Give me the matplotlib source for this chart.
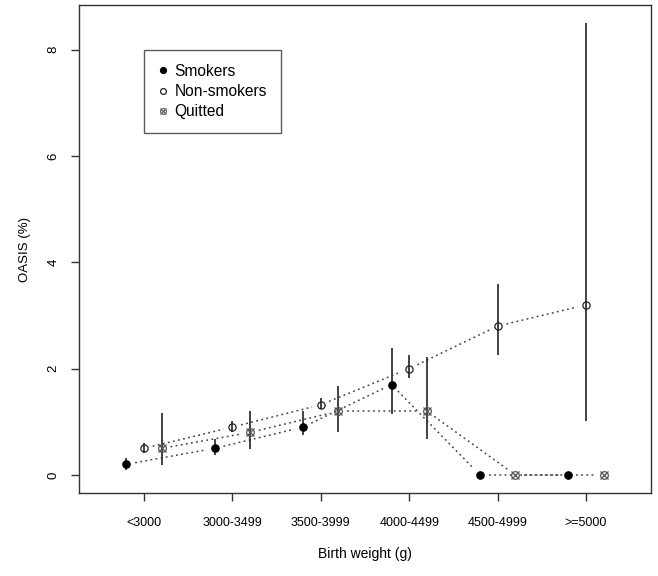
import numpy as np
import matplotlib
matplotlib.use("Agg")
import matplotlib.pyplot as plt
from matplotlib.lines import Line2D

plt.rcParams['font.family'] = ['Liberation Sans', 'DejaVu Sans']

categories = ["<3000", "3000-3499", "3500-3999", "4000-4499", "4500-4999", ">=5000"]
offsets = {"Smokers": -0.2, "Non-smokers": 0.0, "Quitted": 0.2}

smokers = [0.2, 0.5, 0.9, 1.7, 0.0, 0.0]
smokers_lo = [0.10, 0.38, 0.75, 1.15, 0.0, 0.0]
smokers_hi = [0.32, 0.68, 1.20, 2.38, 0.0, 0.0]

nonsmokers = [0.5, 0.9, 1.32, 2.0, 2.8, 3.2]
nonsmokers_lo = [0.42, 0.80, 1.24, 1.82, 2.25, 1.02]
nonsmokers_hi = [0.60, 1.02, 1.45, 2.25, 3.60, 8.50]

quitted = [0.5, 0.8, 1.2, 1.2, 0.0, 0.0]
quitted_lo = [0.18, 0.48, 0.80, 0.67, 0.0, 0.0]
quitted_hi = [1.17, 1.20, 1.68, 2.22, 0.0, 0.0]

yticks = [0, 2, 4, 6, 8]

fig = plt.figure(figsize=(6.58, 5.76), dpi=100)
ax = fig.add_axes([0.12, 0.1441, 0.8694, 0.8472])
ax.set_xlim(0.265, 6.735)
ax.set_ylim(-0.34, 8.84)

pos = np.arange(1, len(categories) + 1)
lc = '#444444'
dot = (0, (1.2, 2.2))


def gapped_line(xs, ys, gap=9.0):
    pts = ax.transData.transform(np.column_stack([xs, ys]))
    inv = ax.transData.inverted()
    for i in range(len(pts) - 1):
        p0, p1 = pts[i], pts[i + 1]
        d = p1 - p0
        L = np.hypot(*d)
        if L <= 2 * gap:
            continue
        u = d / L
        a = inv.transform(p0 + u * gap)
        b = inv.transform(p1 - u * gap)
        ax.plot([a[0], b[0]], [a[1], b[1]], color=lc, lw=1.1, linestyle=dot, zorder=1)


series = [
    ("Smokers", smokers, smokers_lo, smokers_hi),
    ("Non-smokers", nonsmokers, nonsmokers_lo, nonsmokers_hi),
    ("Quitted", quitted, quitted_lo, quitted_hi),
]

for name, vals, lo, hi in series:
    xs = pos + offsets[name]
    gapped_line(xs, vals)
    ax.vlines(xs, lo, hi, color='#333333', lw=1.3, zorder=2)

xs = pos + offsets["Smokers"]
ax.plot(xs, smokers, 'o', ms=5.2, color='black', zorder=3, ls='none')
xs = pos + offsets["Non-smokers"]
ax.plot(xs, nonsmokers, 'o', ms=5.2, mfc='none', mec='#222222', mew=0.9, zorder=3, ls='none')
xs = pos + offsets["Quitted"]
ax.plot(xs, quitted, 'o', ms=5.5, mfc='none', mec='#555555', mew=0.9, zorder=3, ls='none')
ax.plot(xs, quitted, 'x', ms=5.5, mec='#555555', mew=0.9, zorder=4, ls='none')

ax.set_xticks(pos)
ax.set_xticklabels(categories, fontsize=9)
ax.set_yticks(yticks)
ax.set_yticklabels([str(v) for v in yticks], fontsize=9.5, rotation=90, va='center')
ax.tick_params(direction='out', length=6, width=1, color='#333333', pad=11)
ax.tick_params(axis='y', pad=8)
for s in ax.spines.values():
    s.set_color('#333333')
    s.set_linewidth(1.0)

ax.set_xlabel("Birth weight (g)", fontsize=10, labelpad=13)
ax.set_ylabel("OASIS (%)", fontsize=9.5, labelpad=12)

h1 = Line2D([], [], marker='o', ls='none', color='black', ms=4.2)
h2 = Line2D([], [], marker='o', ls='none', mfc='none', mec='#222222', ms=4.2, mew=0.9)
h3a = Line2D([], [], marker='o', ls='none', mfc='none', mec='#555555', ms=4.2, mew=0.8)
h3b = Line2D([], [], marker='x', ls='none', mec='#555555', ms=4.2, mew=0.8)
leg = ax.legend([h1, h2, (h3a, h3b)], ["Smokers", "Non-smokers", "Quitted"],
                loc='upper left', bbox_to_anchor=(0.1136, 0.908), fontsize=11.2,
                frameon=True, fancybox=False, handlelength=0.7, handletextpad=0.35,
                borderpad=0.9, labelspacing=0.33, borderaxespad=0)
leg.get_frame().set_edgecolor('#333333')
leg.get_frame().set_linewidth(1.0)

fig.savefig("out.png", dpi=100)
